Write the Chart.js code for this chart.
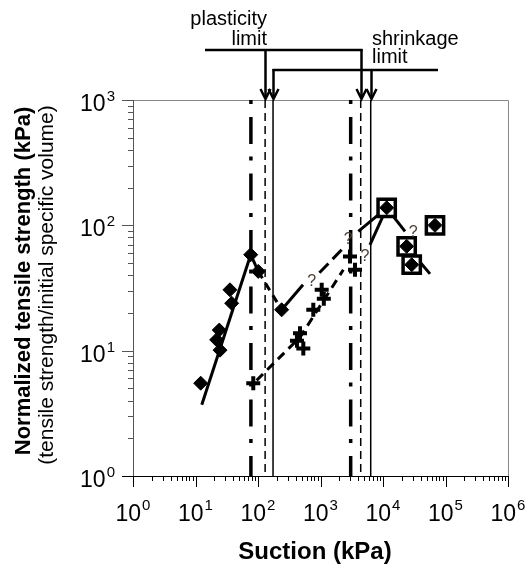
<!DOCTYPE html>
<html><head><meta charset="utf-8">
<script src="https://cdn.jsdelivr.net/npm/chart.js@4.4.1/dist/chart.umd.min.js"></script>
<style>html,body{margin:0;padding:0;background:#fff}#wrap{width:530px;height:569px;position:relative}</style>
</head><body><div id="wrap"><canvas id="c"></canvas></div>
<script>
const FONT = '"Liberation Sans", Arial, sans-serif';

// ---- data (kPa) ----
const diamondX = [12.1, 21.8, 24.0, 24.7, 35.6, 37.9, 76.4, 101, 239];
const diamondY = [5.5, 12.2, 14.6, 10.1, 30.6, 23.9, 58.3, 42.9, 21.2];
const crossX = [84, 420, 470, 531, 767, 1045, 1130, 2965, 3565];
const crossY = [5.5, 12.0, 13.8, 10.4, 21.2, 30.6, 26.0, 56.3, 44.2];
const squareX = [11450, 23900, 28800, 67900];
const squareY = [138, 68, 48.5, 100];

// trend lines
const trendSolid1X = [12.6, 76.4], trendSolid1Y = [3.7, 58.3];
const trendSolid2X = [76.4, 101], trendSolid2Y = [58.3, 42.9];
const trendDash1X = [101, 239], trendDash1Y = [42.9, 21.2];
const trendSolid3X = [239, 525], trendSolid3Y = [21.2, 33.6];
const trendLong1X = [960, 2185], trendLong1Y = [41.8, 63.9];
const trendSolid4X = [4030, 11450], trendSolid4Y = [89.5, 138];
const crossDashX = [95, 470, 2317], crossDashY = [5.8, 12.8, 44.2];
const crossSolidX = [6190, 11450], crossSolidY = [69.8, 138];
const sqLine1X = [11450, 22500], sqLine1Y = [138, 89.5];
const sqLine2X = [23900, 56500], sqLine2Y = [68, 41];

// question marks
const qX = [723, 2786, 5150, 30500];
const qY = [35.6, 76.9, 56.5, 87];

// vertical reference lines
const vLineX = [77, 130, 174, 3040, 4400, 6360];
const vLineKind = ['dashdot', 'dashed', 'solid', 'dashdot', 'dashed', 'solid'];
const plasticArrowX = [130, 4400];
const shrinkArrowX = [174, 6360];

// ticks
const xTickExp = [0, 1, 2, 3, 4, 5, 6];
const yTickExp = [0, 1, 2, 3];

const pts = (xs, ys) => xs.map((v, i) => ({x: v, y: ys[i]}));

function lineDS(xs, ys, dash, width) {
  return {type: 'line', data: pts(xs, ys), showLine: true, borderColor: '#000',
    borderWidth: width || 3, borderDash: dash || [], pointRadius: 0, fill: false, order: 5, tension: 0};
}

const datasets = [];
// markers
datasets.push({data: pts(squareX, squareY), pointStyle: 'rectRot', pointRadius: 7, backgroundColor: '#000', borderColor: '#000', borderWidth: 1, order: 0});
datasets.push({data: pts(squareX, squareY), pointStyle: 'rect', pointRadius: 12.2, backgroundColor: '#fff', borderColor: '#000', borderWidth: 3.5, order: 1});
datasets.push({data: pts(diamondX, diamondY), pointStyle: 'rectRot', pointRadius: 7, backgroundColor: '#000', borderColor: '#000', borderWidth: 1, order: 2});
datasets.push({data: pts(crossX, crossY), pointStyle: 'cross', pointRadius: 7, backgroundColor: '#000', borderColor: '#000', borderWidth: 4, order: 2});
// trend lines
datasets.push(lineDS(trendSolid1X, trendSolid1Y));
datasets.push(lineDS(trendSolid2X, trendSolid2Y));
datasets.push(lineDS(trendDash1X, trendDash1Y, [8, 6]));
datasets.push(lineDS(trendSolid3X, trendSolid3Y));
datasets.push(lineDS(trendLong1X, trendLong1Y, [13, 6]));
datasets.push(lineDS(trendSolid4X, trendSolid4Y));
datasets.push(lineDS(crossDashX, crossDashY, [9, 6]));
datasets.push(lineDS(crossSolidX, crossSolidY));
datasets.push(lineDS(sqLine1X, sqLine1Y));
datasets.push(lineDS(sqLine2X, sqLine2Y));
// vertical lines
vLineX.forEach((v, i) => {
  const k = vLineKind[i];
  const ds = lineDS([v, v], [1000, 1], k === 'dashdot' ? [4, 13, 27, 12.5] : k === 'dashed' ? [8, 5] : [],
    k === 'dashdot' ? 3.5 : 1.5);
  ds.order = 10;
  ds.borderCapStyle = 'butt';
  datasets.push(ds);
});

const overlay = {
  id: 'overlay',
  beforeDatasetsDraw(chart) {
    const {ctx, chartArea: a, scales: {x, y}} = chart;
    ctx.save();
    // top/right border
    ctx.strokeStyle = '#888'; ctx.lineWidth = 1;
    ctx.beginPath(); ctx.moveTo(a.left, a.top + 0.5); ctx.lineTo(a.right + 0.5, a.top + 0.5);
    ctx.lineTo(a.right + 0.5, a.bottom); ctx.stroke();
    // y axis
    ctx.strokeStyle = '#555';
    ctx.beginPath(); ctx.moveTo(a.left + 0.5, a.top); ctx.lineTo(a.left + 0.5, a.bottom); ctx.stroke();
    for (let d = 0; d < 3; d++) for (let m = 2; m <= 9; m++) {
      const py = Math.round(y.getPixelForValue(m * Math.pow(10, d))) + 0.5;
      ctx.beginPath(); ctx.moveTo(a.left - 5, py); ctx.lineTo(a.left, py); ctx.stroke();
    }
    yTickExp.forEach(e => {
      const py = Math.round(y.getPixelForValue(Math.pow(10, e))) + 0.5;
      ctx.beginPath(); ctx.moveTo(a.left - 11, py); ctx.lineTo(a.left, py); ctx.stroke();
    });
    // x axis
    ctx.strokeStyle = '#000';
    ctx.beginPath(); ctx.moveTo(a.left - 11, a.bottom + 0.5); ctx.lineTo(a.right + 1, a.bottom + 0.5); ctx.stroke();
    for (let d = 0; d < 6; d++) for (let m = 2; m <= 9; m++) {
      const px = Math.round(x.getPixelForValue(m * Math.pow(10, d))) + 0.5;
      ctx.beginPath(); ctx.moveTo(px, a.bottom); ctx.lineTo(px, a.bottom + 5); ctx.stroke();
    }
    xTickExp.forEach(e => {
      const px = Math.round(x.getPixelForValue(Math.pow(10, e))) + 0.5;
      ctx.beginPath(); ctx.moveTo(px, a.bottom); ctx.lineTo(px, a.bottom + 11); ctx.stroke();
    });
    ctx.restore();
  },
  afterDraw(chart) {
    const {ctx, chartArea: a, scales: {x, y}} = chart;
    ctx.save();
    ctx.fillStyle = '#000';
    const big = '23px ' + FONT, sup = '15px ' + FONT;
    // x tick labels
    xTickExp.forEach(e => {
      const px = x.getPixelForValue(Math.pow(10, e));
      ctx.font = big; const w1 = ctx.measureText('10').width;
      ctx.font = sup; const w2 = ctx.measureText(String(e)).width;
      const x0 = px - (w1 + 1 + w2) / 2;
      ctx.textAlign = 'left'; ctx.textBaseline = 'alphabetic';
      ctx.font = big; ctx.fillText('10', x0, a.bottom + 45);
      ctx.font = sup; ctx.fillText(String(e), x0 + w1 + 1, a.bottom + 34);
    });
    // y tick labels
    yTickExp.forEach(e => {
      const py = y.getPixelForValue(Math.pow(10, e));
      ctx.font = big; const w1 = ctx.measureText('10').width;
      ctx.font = sup; const w2 = ctx.measureText(String(e)).width;
      const xr = a.left - 18;
      ctx.textAlign = 'left'; ctx.textBaseline = 'alphabetic';
      ctx.font = big; ctx.fillText('10', xr - w2 - 1 - w1, py + 11);
      ctx.font = sup; ctx.fillText(String(e), xr - w2, py + 1);
    });
    // axis titles
    ctx.textAlign = 'center';
    ctx.font = 'bold 24px ' + FONT;
    ctx.fillText('Suction (kPa)', 315, 559);
    ctx.save();
    ctx.translate(29.5, 281); ctx.rotate(-Math.PI / 2);
    ctx.font = 'bold 22px ' + FONT;
    ctx.fillText('Normalized tensile strength (kPa)', 0, 0);
    ctx.restore();
    ctx.save();
    ctx.translate(52.5, 285); ctx.rotate(-Math.PI / 2);
    ctx.font = '21px ' + FONT;
    ctx.fillText('(tensile strength/initial specific volume)', 0, 0);
    ctx.restore();
    // question marks
    ctx.font = '16px ' + FONT; ctx.fillStyle = '#4b4035';
    ctx.textBaseline = 'middle';
    qX.forEach((v, i) => ctx.fillText('?', x.getPixelForValue(v), y.getPixelForValue(qY[i])));
    // limit annotations
    ctx.fillStyle = '#000'; ctx.textBaseline = 'alphabetic';
    ctx.font = '20px ' + FONT;
    ctx.textAlign = 'right';
    ctx.fillText('plasticity', 267, 25);
    ctx.fillText('limit', 267, 45);
    ctx.textAlign = 'left';
    ctx.fillText('shrinkage', 372, 45);
    ctx.fillText('limit', 372, 63);
    ctx.strokeStyle = '#000'; ctx.lineWidth = 2.5; ctx.lineCap = 'butt'; ctx.lineJoin = 'miter';
    const arrow = (px, y0, y1) => {
      ctx.beginPath(); ctx.moveTo(px, y0); ctx.lineTo(px, y1 - 2); ctx.stroke();
      ctx.beginPath(); ctx.moveTo(px - 5, y1 - 11); ctx.lineTo(px, y1 - 1); ctx.lineTo(px + 5, y1 - 11); ctx.stroke();
    };
    const pA = plasticArrowX.map(v => Math.round(x.getPixelForValue(v)) + 0.5);
    const sA = shrinkArrowX.map(v => Math.round(x.getPixelForValue(v)) + 0.5);
    ctx.beginPath(); ctx.moveTo(205, 50); ctx.lineTo(pA[1] + 1, 50); ctx.stroke();
    ctx.beginPath(); ctx.moveTo(sA[0] - 1, 70); ctx.lineTo(438, 70); ctx.stroke();
    arrow(pA[0], 50, a.top); arrow(pA[1], 49, a.top);
    arrow(sA[0], 69, a.top); arrow(sA[1], 70, a.top);
    ctx.restore();
  }
};

new Chart(document.getElementById('c'), {
  type: 'scatter',
  data: {datasets},
  options: {
    responsive: true, maintainAspectRatio: false, animation: false,
    layout: {padding: {left: 133, right: 22, top: 100, bottom: 93}},
    plugins: {legend: {display: false}, tooltip: {enabled: false}},
    scales: {
      x: {type: 'logarithmic', min: 1, max: 1e6, display: false},
      y: {type: 'logarithmic', min: 1, max: 1000, display: false}
    }
  },
  plugins: [overlay]
});
</script></body></html>
